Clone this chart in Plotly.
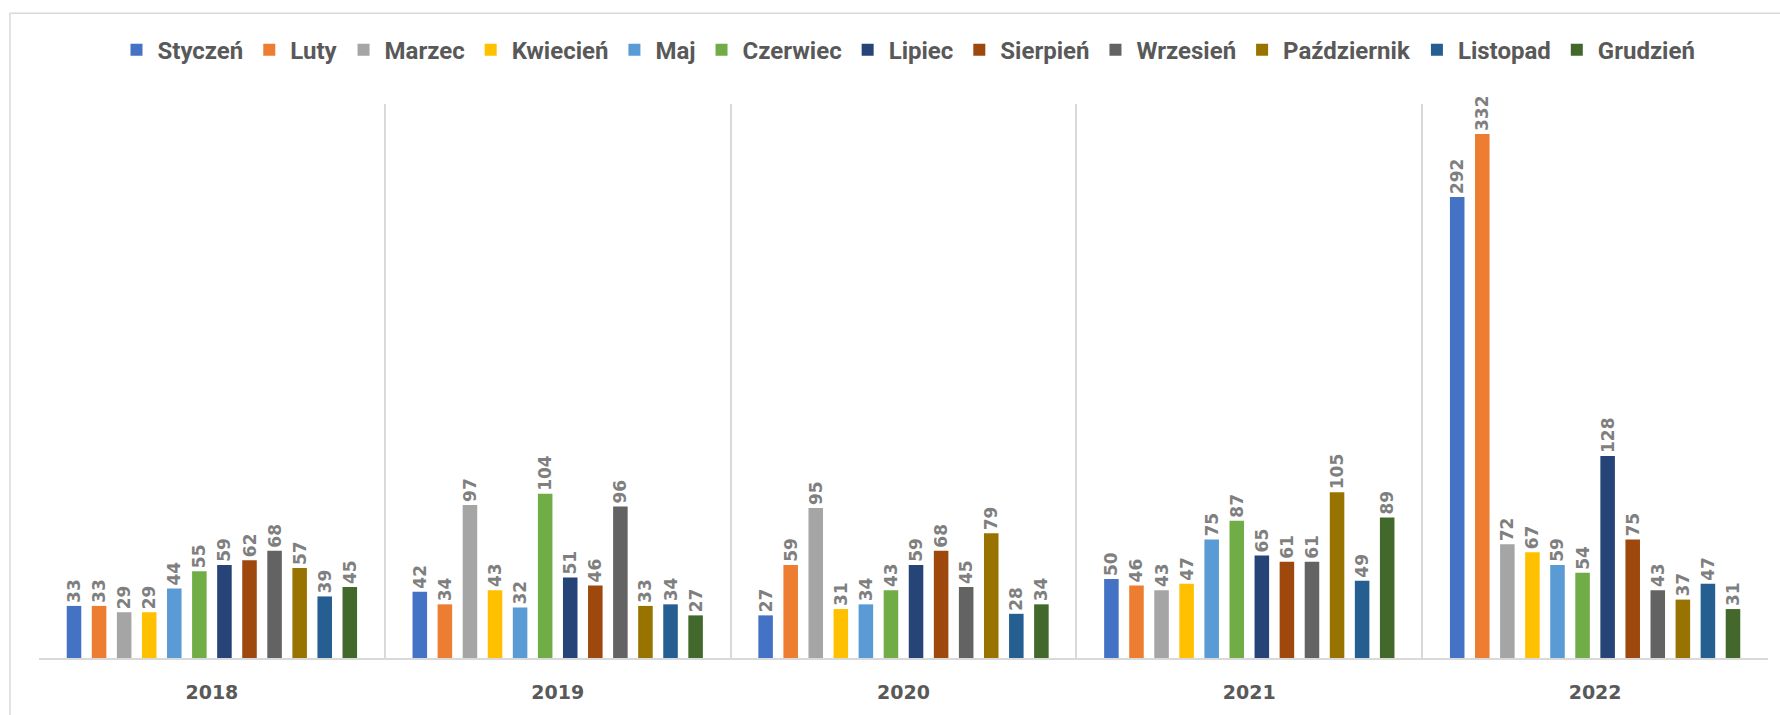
import plotly.graph_objects as go

years = ["2018", "2019", "2020", "2021", "2022"]
months = ["Styczeń", "Luty", "Marzec", "Kwiecień", "Maj", "Czerwiec", "Lipiec",
          "Sierpień", "Wrzesień", "Październik", "Listopad", "Grudzień"]
colors = ["#4472C4", "#ED7D31", "#A5A5A5", "#FFC000", "#5B9BD5", "#70AD47",
          "#264478", "#9E480E", "#636363", "#997300", "#255E91", "#43682B"]

v2018 = [33, 33, 29, 29, 44, 55, 59, 62, 68, 57, 39, 45]
v2019 = [42, 34, 97, 43, 32, 104, 51, 46, 96, 33, 34, 27]
v2020 = [27, 59, 95, 31, 34, 43, 59, 68, 45, 79, 28, 34]
v2021 = [50, 46, 43, 47, 75, 87, 65, 61, 61, 105, 49, 89]
v2022 = [292, 332, 72, 67, 59, 54, 128, 75, 43, 37, 47, 31]
by_year = [v2018, v2019, v2020, v2021, v2022]

fig = go.Figure()
for i, m in enumerate(months):
    vals = [yr[i] for yr in by_year]
    fig.add_trace(go.Bar(
        name=m, x=years, y=vals, marker_color=colors[i], marker_line_width=0,
        text=[str(v) for v in vals], textposition="outside", textangle=-90,
        constraintext="none", cliponaxis=False,
        textfont=dict(family="DejaVu Sans, sans-serif", size=17, color="#7F7F7F", weight="bold"),
    ))

fig.update_layout(
    width=1780, height=715,
    barmode="group", bargap=0.13, bargroupgap=0.42,
    plot_bgcolor="white", paper_bgcolor="white",
    margin=dict(l=39, r=12, t=104, b=57),
    legend=dict(orientation="h", x=0.5026, xanchor="center", y=1.097, yanchor="middle",
                font=dict(family="Roboto, sans-serif", size=24, color="#595959", weight="bold"),
                itemwidth=32, traceorder="normal"),
    showlegend=True,
)
fig.update_xaxes(type="category", tickson="boundaries", showgrid=True, gridcolor="#D9D9D9",
                 gridwidth=1.5, showline=True, linecolor="#D9D9D9", linewidth=2, ticks="",
                 ticklabelstandoff=16,
                 tickfont=dict(family="DejaVu Sans, sans-serif", size=19, color="#595959", weight="bold"))
fig.update_yaxes(range=[0, 351], showgrid=False, showticklabels=False, zeroline=False, showline=False)

fig.add_shape(type="rect", xref="paper", yref="paper", x0=-0.0168, x1=1.05, y0=-0.2, y1=1.164,
              line=dict(color="#D9D9D9", width=1.5), fillcolor="rgba(0,0,0,0)", layer="below")

fig.write_html("out.html", config={"displayModeBar": False},
               post_script="document.body.style.margin='0';")
